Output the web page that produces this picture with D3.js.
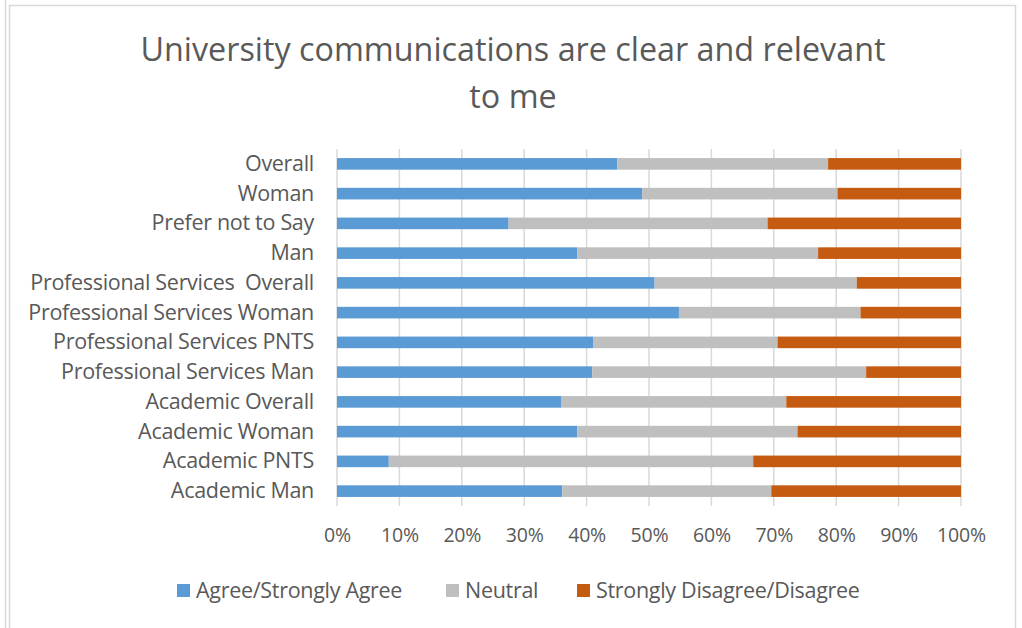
<!DOCTYPE html>
<html>
<head>
<meta charset="utf-8">
<script src="https://cdn.jsdelivr.net/npm/d3@7"></script>
<style>
  html, body { margin: 0; padding: 0; background: #fff; }
  svg { display: block; font-family: "Open Sans", Lato, sans-serif; }
</style>
</head>
<body>
<svg id="chart" width="1022" height="628"></svg>
<script>
// Survey groups, listed top to bottom
const categories = [
  "Overall",
  "Woman",
  "Prefer not to Say",
  "Man",
  "Professional Services  Overall",
  "Professional Services Woman",
  "Professional Services PNTS",
  "Professional Services Man",
  "Academic Overall",
  "Academic Woman",
  "Academic PNTS",
  "Academic Man"
];

// Share of responses per group (percent)
const agree    = [44.9, 48.9, 27.5, 38.5, 50.9, 54.8, 41.1, 40.9, 35.9, 38.5, 8.3, 36.1];
const neutral  = [33.8, 31.3, 41.5, 38.6, 32.4, 29.1, 29.5, 43.9, 36.1, 35.3, 58.4, 33.5];
const disagree = [21.3, 19.8, 31.0, 22.9, 16.7, 16.1, 29.4, 15.2, 28.0, 26.2, 33.3, 30.4];

const seriesNames = ["Agree/Strongly Agree", "Neutral", "Strongly Disagree/Disagree"];
const seriesColors = ["#5b9bd5", "#bfbfbf", "#c55a11"];
const tickValues = [0, 0.1, 0.2, 0.3, 0.4, 0.5, 0.6, 0.7, 0.8, 0.9, 1.0];

const title = ["University communications are clear and relevant", "to me"];

const svg = d3.select("#chart");
const W = 1022, H = 628;
const textColor = "#595959";
const font = "'Open Sans', Lato, sans-serif";

// chart frame
svg.append("line").attr("x1", 5.5).attr("x2", 5.5).attr("y1", 0).attr("y2", H)
  .attr("stroke", "#d9d9d9").attr("stroke-width", 1.5);
svg.append("path")
  .attr("d", `M9.5,${H} V5.5 H1015.5 V${H}`)
  .attr("fill", "none").attr("stroke", "#d9d9d9").attr("stroke-width", 1.5);

const margin = { left: 337, right: 61, top: 149, bottom: 122 };
const x = d3.scaleLinear().domain([0, 1]).range([margin.left, W - margin.right]);
const y = d3.scaleBand().domain(categories).range([margin.top, H - margin.bottom]).paddingInner(0.61).paddingOuter(0.305);

// title
svg.append("g").selectAll("text").data(title).join("text")
  .attr("x", 513).attr("y", (d, i) => 61 + i * 47)
  .attr("text-anchor", "middle")
  .attr("font-size", 32.3).attr("fill", textColor)
  .text(d => d);

// vertical gridlines
svg.append("g").selectAll("line").data(tickValues).join("line")
  .attr("x1", d => x(d)).attr("x2", d => x(d))
  .attr("y1", margin.top).attr("y2", H - margin.bottom)
  .attr("stroke", "#d9d9d9").attr("stroke-width", 1.5);

// stacked bars
const rows = categories.map((c, i) => ({ category: c, a: agree[i] / 100, n: neutral[i] / 100, d: disagree[i] / 100 }));
const stack = d3.stack().keys(["a", "n", "d"]);
const layers = stack(rows);

svg.append("g").selectAll("g").data(layers).join("g")
  .attr("fill", (d, i) => seriesColors[i])
  .selectAll("rect").data(d => d).join("rect")
  .attr("x", d => x(d[0]))
  .attr("width", d => x(d[1]) - x(d[0]))
  .attr("y", d => y(d.data.category))
  .attr("height", y.bandwidth());

// category labels
const yAxis = svg.append("g")
  .attr("transform", `translate(${margin.left},0)`)
  .call(d3.axisLeft(y).tickSize(0).tickPadding(23));
yAxis.select(".domain").remove();
yAxis.selectAll("text").attr("font-size", 21.5).attr("fill", textColor)
  .attr("font-family", font).style("letter-spacing", "-0.3px")
  .style("white-space", "pre");

// percentage axis
const xAxis = svg.append("g")
  .attr("transform", `translate(0,${H - margin.bottom})`)
  .call(d3.axisBottom(x).tickValues(tickValues).tickFormat(d3.format(".0%")).tickSize(0).tickPadding(22));
xAxis.select(".domain").remove();
xAxis.selectAll("text").attr("font-size", 19.5).attr("fill", textColor)
  .attr("font-family", font).style("letter-spacing", "-0.2px");

// legend
const legendItems = [
  { name: seriesNames[0], color: seriesColors[0], x: 177 },
  { name: seriesNames[1], color: seriesColors[1], x: 446 },
  { name: seriesNames[2], color: seriesColors[2], x: 577 }
];
const lg = svg.append("g").selectAll("g").data(legendItems).join("g")
  .attr("transform", d => `translate(${d.x},590)`);
lg.append("rect").attr("x", 0).attr("y", -6).attr("width", 13).attr("height", 13).attr("fill", d => d.color);
lg.append("text").attr("x", 19).attr("y", 0).attr("dy", "0.35em")
  .attr("font-size", 21.5).attr("fill", textColor)
  .style("letter-spacing", "-0.3px").text(d => d.name);
</script>
</body>
</html>
